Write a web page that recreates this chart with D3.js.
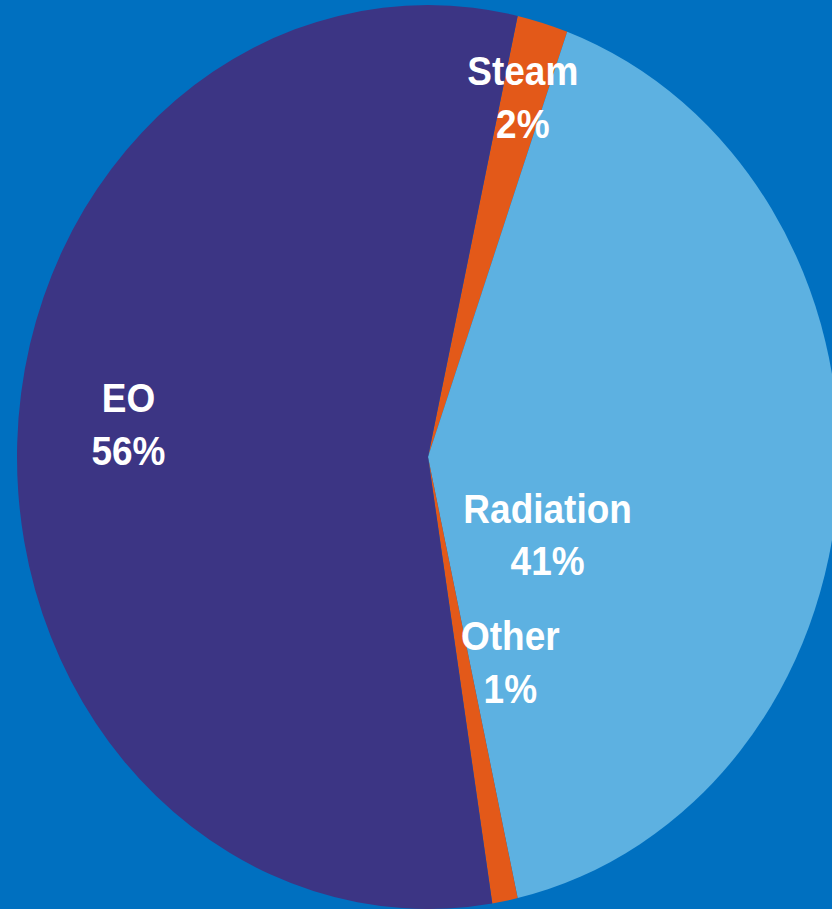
<!DOCTYPE html>
<html>
<head>
<meta charset="utf-8">
<script src="https://cdn.jsdelivr.net/npm/d3@7"></script>
<style>
  html, body { margin: 0; padding: 0; background: #0070C0; }
  svg { display: block; }
</style>
</head>
<body>
<svg id="chart" width="832" height="909"></svg>
<script>
// Sterilization method share (%)
const categories = ["Steam", "Radiation", "Other", "EO"];
const shares = [2, 41, 1, 56];
const colors = ["#E35919", "#5DB1E1", "#E35919", "#3C3584"];

const width = 832, height = 909;
const cx = 428, cy = 457;
const radius = 411;
const yStretch = 452 / 411;      // pie is drawn slightly taller than wide
const startDeg = 12.6;

const svg = d3.select("#chart");
svg.append("rect").attr("width", width).attr("height", height).attr("fill", "#0070C0");

const g = svg.append("g")
  .attr("transform", `translate(${cx},${cy}) scale(1,${yStretch})`);

const pie = d3.pie()
  .sort(null)
  .value(d => d.value)
  .startAngle(startDeg * Math.PI / 180)
  .endAngle(startDeg * Math.PI / 180 + 2 * Math.PI);

const data = categories.map((c, i) => ({ name: c, value: shares[i], color: colors[i] }));
const arcs = pie(data);

const arc = d3.arc().innerRadius(0).outerRadius(radius);

g.selectAll("path.slice")
  .data(arcs)
  .join("path")
  .attr("class", "slice")
  .attr("d", arc)
  .attr("fill", d => d.data.color);

// Label placement per slice: radius and angle (degrees, clockwise from 12 o'clock)
const labelPlacement = {
  Steam:     { r: 328, a: 16.8 },
  Radiation: { r: 146, a: 125.0 },
  Other:     { r: 216, a: 157.6 },
  EO:        { r: 300, a: 273.2 }
};

const fontSize = 37;
const lineGap = 48;

const labels = g.selectAll("g.label")
  .data(arcs)
  .join("g")
  .attr("class", "label")
  .attr("transform", d => {
    const p = labelPlacement[d.data.name];
    const ang = p.a * Math.PI / 180;
    const x = p.r * Math.sin(ang);
    const y = -p.r * Math.cos(ang);
    return `translate(${x},${y})`;
  });

labels.append("text")
  .attr("text-anchor", "middle")
  .attr("y", -lineGap / 2)
  .attr("fill", "#FFFFFF")
  .style("font-family", "'Liberation Sans', Arial, sans-serif")
  .style("font-weight", "bold")
  .style("font-size", fontSize + "px")
  .text(d => d.data.name);

labels.append("text")
  .attr("text-anchor", "middle")
  .attr("y", lineGap / 2)
  .attr("fill", "#FFFFFF")
  .style("font-family", "'Liberation Sans', Arial, sans-serif")
  .style("font-weight", "bold")
  .style("font-size", fontSize + "px")
  .text(d => d.data.value + "%");
</script>
</body>
</html>
